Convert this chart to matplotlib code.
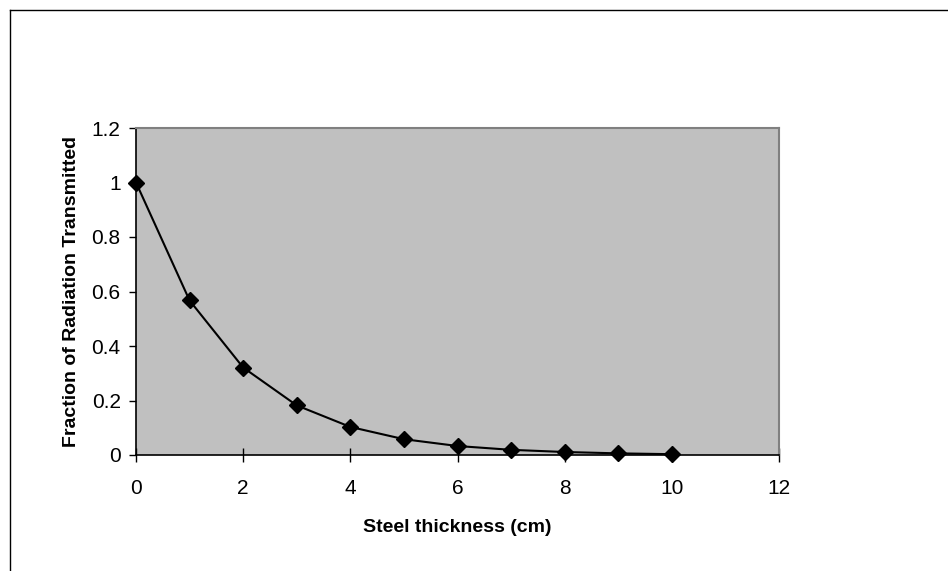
import matplotlib
matplotlib.use("Agg")
import matplotlib.pyplot as plt
from matplotlib.lines import Line2D

plt.rcParams['font.family'] = ['Liberation Sans', 'DejaVu Sans']

thickness = [0, 1, 2, 3, 4, 5, 6, 7, 8, 9, 10]
fraction = [1.0, 0.567, 0.321, 0.182, 0.103, 0.058, 0.033, 0.019, 0.011, 0.006, 0.003]
x_ticks = [0, 2, 4, 6, 8, 10, 12]
y_ticks = [0, 0.2, 0.4, 0.6, 0.8, 1.0, 1.2]
y_tick_labels = ["0", "0.2", "0.4", "0.6", "0.8", "1", "1.2"]

W, H = 948, 571
fig = plt.figure(figsize=(W / 100, H / 100), dpi=100)
ax = fig.add_axes([136 / W, 1 - 455 / H, (779 - 136) / W, (455 - 128) / H])
ax.set_facecolor('#C0C0C0')

ax.plot(thickness, fraction, color='black', linewidth=1.5, marker='D',
        markersize=8, markerfacecolor='black', markeredgecolor='black', clip_on=False, zorder=3)

ax.set_xlim(0, 12)
ax.set_ylim(0, 1.2)
ax.set_xticks(x_ticks)
ax.set_xticklabels([str(v) for v in x_ticks])
ax.set_yticks(y_ticks)
ax.set_yticklabels(y_tick_labels)

ax.tick_params(axis='x', direction='inout', length=10, width=1, labelsize=15, pad=12, color='black')
ax.tick_params(axis='y', direction='out', length=5, width=1, labelsize=15, pad=6, color='black')

for s in ['top', 'right']:
    ax.spines[s].set_color('#808080')
    ax.spines[s].set_linewidth(1.5)
for s in ['left', 'bottom']:
    ax.spines[s].set_color('black')
    ax.spines[s].set_linewidth(1.2)

ax.set_xlabel('Steel thickness (cm)', fontsize=14, fontweight='bold')
ax.set_ylabel('Fraction of Radiation Transmitted', fontsize=14, fontweight='bold')
ax.xaxis.set_label_coords(0.5, (455 - 528) / 327)
ax.yaxis.set_label_coords((72 - 136) / 643, 0.5)
ax.xaxis.label.set_verticalalignment('center')
ax.yaxis.label.set_verticalalignment('center')

# figure frame
fig.add_artist(Line2D([9.5 / W, 9.5 / W], [0, 1 - 9.5 / H], color='black', linewidth=1, transform=fig.transFigure))
fig.add_artist(Line2D([9.5 / W, 1], [1 - 9.5 / H, 1 - 9.5 / H], color='black', linewidth=1, transform=fig.transFigure))

fig.savefig('out.png', dpi=100)
